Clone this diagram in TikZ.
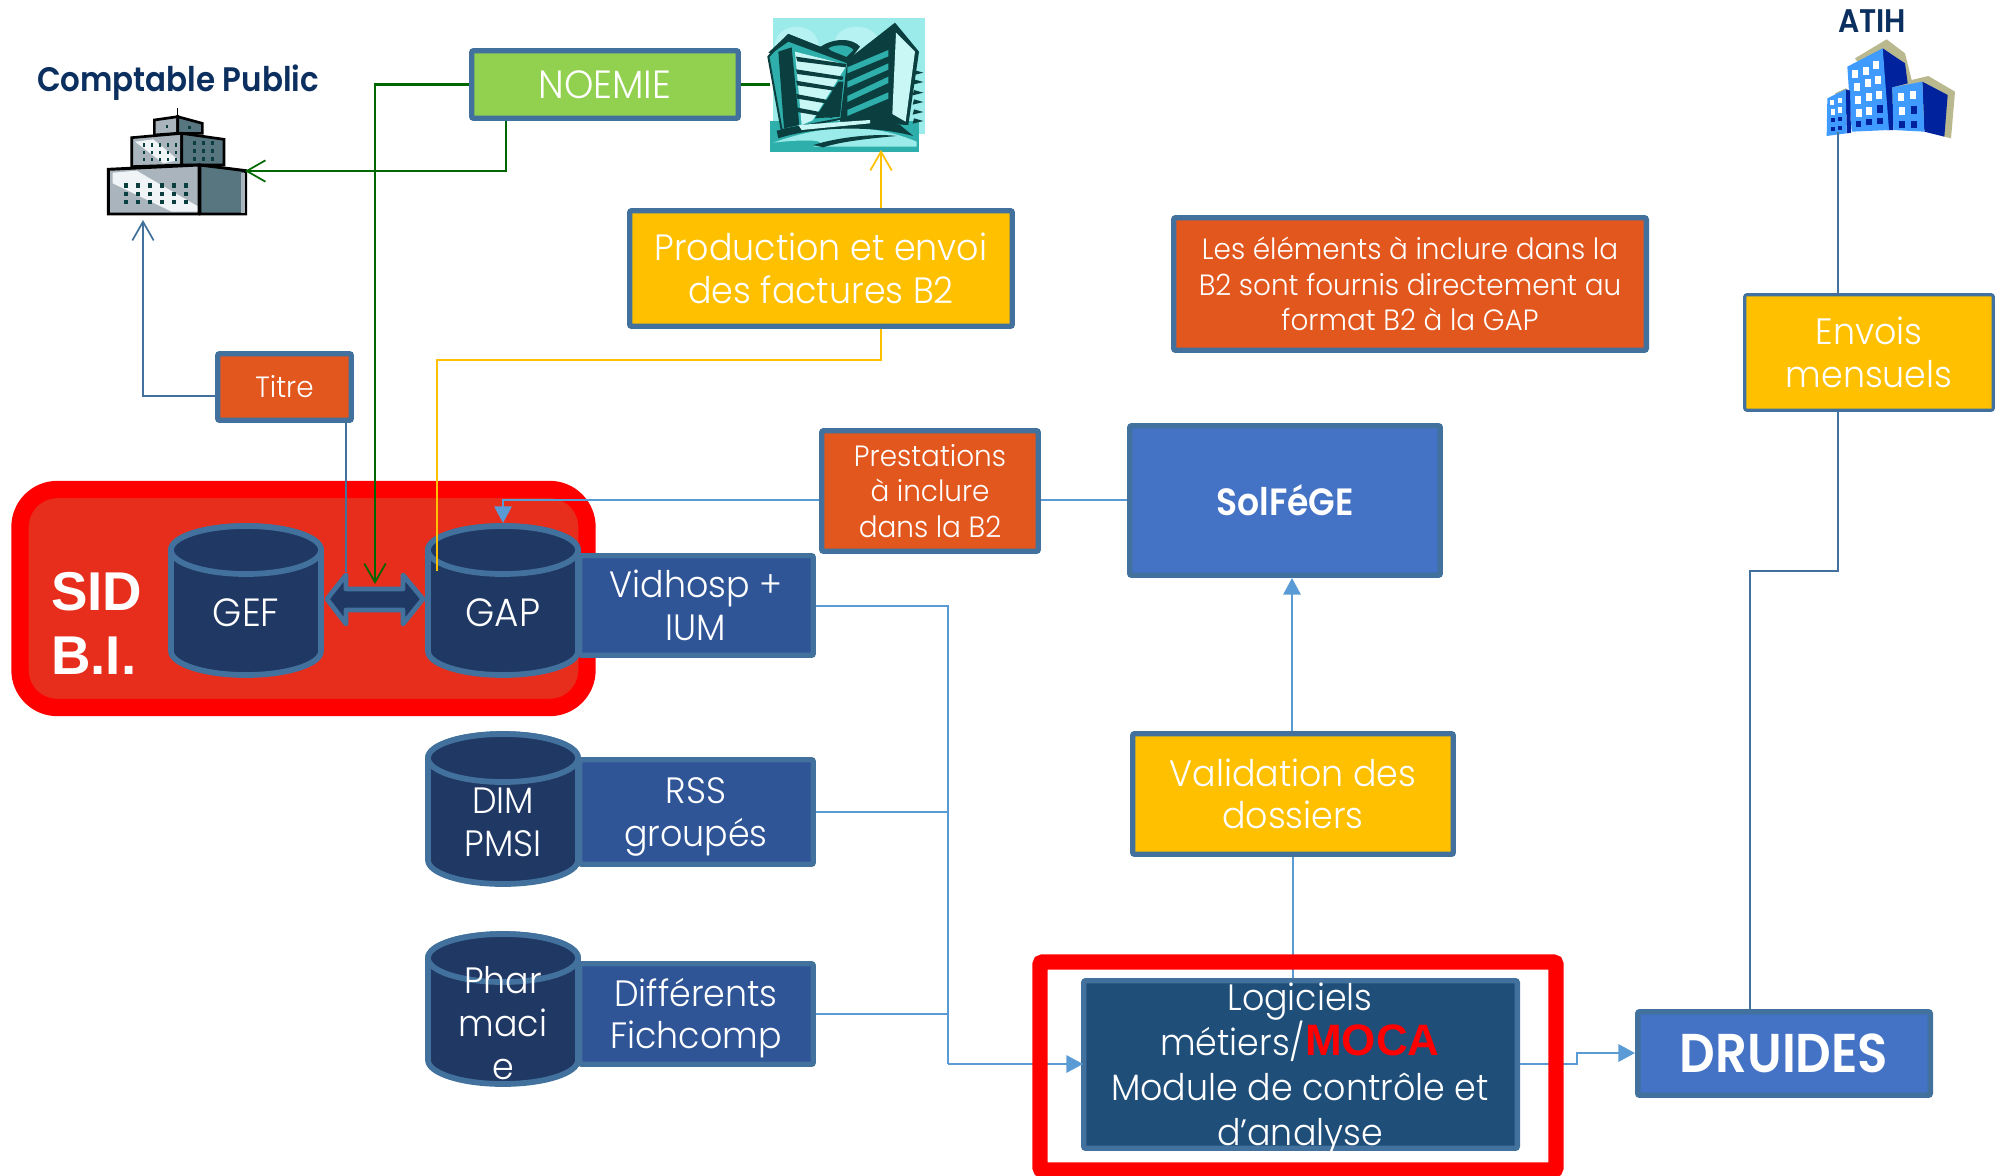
\documentclass[tikz,border=0pt]{standalone}
\usepackage{fontspec}
\usetikzlibrary{arrows.meta}
\newfontfamily\gothic[FakeStretch=0.95]{Poppins Light}
\newfontfamily\gothicb[FakeStretch=0.91]{Poppins SemiBold}
\newfontfamily\arialb{Liberation Sans Bold}
\definecolor{bord}{HTML}{41719C}
\definecolor{lnk}{HTML}{5B9BD5}
\definecolor{grn}{HTML}{006600}
\definecolor{ylw}{HTML}{FFC000}
\definecolor{orng}{HTML}{E2571E}
\definecolor{limeg}{HTML}{92D050}
\definecolor{sidf}{HTML}{E72E1C}
\definecolor{cyl}{HTML}{203864}
\definecolor{dbl}{HTML}{2F5597}
\definecolor{logi}{HTML}{1F4E79}
\definecolor{midb}{HTML}{4472C4}
\definecolor{navyt}{HTML}{0B2F5E}
\definecolor{tdark}{HTML}{0B3E3E}
\definecolor{tmid}{HTML}{2FAFAB}
\definecolor{tlight}{HTML}{9AEBEA}
\definecolor{tpale}{HTML}{C8F7F6}
\definecolor{gfront}{HTML}{A9B4BC}
\definecolor{gside}{HTML}{57767F}
\definecolor{gwhite}{HTML}{F0F4F6}
\definecolor{ablue}{HTML}{3F9BFF}
\definecolor{adark}{HTML}{00229C}
\definecolor{atan}{HTML}{B9B88F}
\tikzset{
  every node/.style={inner sep=0pt,align=center,text=white},
  boxst/.style={draw=bord,line width=4.1pt,rounded corners=1.5pt},
  txA/.style={font=\gothic\fontsize{27.5}{32}\selectfont},
  txB/.style={font=\gothic\fontsize{22}{26.6}\selectfont},
  txC/.style={font=\gothic\fontsize{29.5}{32}\selectfont},
  cylst/.style={draw=bord,fill=cyl,line width=4.3pt},
  lnkline/.style={draw=lnk,line width=1.7pt},
  bluel/.style={draw=bord,line width=1.9pt},
  grnl/.style={draw=grn,line width=1.9pt},
  ylwl/.style={draw=ylw,line width=1.5pt},
  tipfill/.style={-{Triangle[length=12.5pt,width=13pt]}},
  tipopen/.style={-{Straight Barb[length=14pt,width=16pt,line width=1.3pt]}},
}
\newcommand{\bx}[7][]{%
  \pgfmathsetmacro{\cxx}{(#3+#5)/2}\pgfmathsetmacro{\cyy}{(#4+#6)/2}%
  \pgfmathsetmacro{\www}{(#5-#3-5.5)*0.75}\pgfmathsetmacro{\hhh}{(#6-#4-5.5)*0.75}%
  \node[boxst,minimum width=\www pt,minimum height=\hhh pt,#1] (#2) at (\cxx,\cyy) {#7};}
\newcommand{\dbc}[7]{%
  \pgfmathsetmacro{\xa}{#2+3}\pgfmathsetmacro{\xb}{#4-3}%
  \pgfmathsetmacro{\rxx}{(#4-#2-6)/2}\pgfmathsetmacro{\xc}{(#2+#4)/2}%
  \pgfmathsetmacro{\ya}{#3+27}\pgfmathsetmacro{\yb}{#5-27}%
  \path[cylst] (\xa,\ya) -- (\xa,\yb) arc[start angle=180,end angle=0,x radius=\rxx,y radius=24]
     -- (\xb,\ya) arc[start angle=0,end angle=-180,x radius=\rxx,y radius=24] -- cycle;
  \path[cylst] (\xc,\ya) ellipse[x radius=\rxx,y radius=24];
  \coordinate (#1top) at (\xc,#3);
  \node[txA] (#1) at (\xc,#6) {#7};}
\begin{document}
\begin{tikzpicture}[x=0.75pt,y=-0.75pt]
\path[use as bounding box] (0,0) rectangle (1996,1175);

% ---- Comptable building
\node[font=\gothicb\fontsize{25.5}{30}\selectfont,text=navyt] (cplabel) at (178,83) {Comptable Public};
\begin{scope}[shift={(100,100)},x=0.25pt,y=-0.25pt,line join=miter]
  \draw[line width=1.1pt] (233,25)--(233,50);
  \path[fill=gfront,draw=black,line width=2pt] (163,60)--(233,50)--(233,100)--(163,105)--cycle;
  \path[fill=gside,draw=black,line width=2pt] (233,50)--(307,70)--(307,100)--(233,100)--cycle;
  \path[fill=gfront,draw=black,line width=2pt] (95,113)--(245,100)--(245,195)--(95,200)--cycle;
  \path[fill=gwhite] (105,125)--(160,118)--(235,180)--(190,190)--cycle;
  \path[fill=gside,draw=black,line width=2pt] (245,100)--(372,118)--(372,195)--(245,195)--cycle;
  \foreach \i in {0,...,4}{\foreach \j in {0,1,2}{\fill[tdark] (128+\i*24,130+\j*22) rectangle +(8,10);}}
  \foreach \i in {0,1,2}{\foreach \j in {0,1,2}{\fill[tdark] (280+\i*27,124+\j*24) rectangle +(8,10);}}
  \fill[tdark] (198,75) rectangle +(6,8); \fill[tdark] (265,78) rectangle +(8,9);
  \path[fill=gfront,draw=black,line width=2.2pt] (25,208)--(297,195)--(297,342)--(25,342)--cycle;
  \path[fill=gwhite] (38,218)--(110,212)--(292,318)--(292,335)--(215,335)--(38,250)--cycle;
  \path[fill=gside,draw=black,line width=2.2pt] (300,195)--(437,212)--(437,342)--(300,342)--cycle;
  \fill[gfront] (424,218) rectangle (435,338);
  \foreach \i in {0,...,5}{\foreach \j in {0,1,2}{\fill[tdark] (73+\i*36,250+\j*25) rectangle +(11,13);}}
\end{scope}

% ---- Teal building
\begin{scope}[shift={(760,10)},x=0.25pt,y=-0.25pt,line join=round]
  \fill[tlight] (39,24) rectangle (495,372);
  \fill[tpale!60!tlight] (110,105) ellipse[x radius=65,y radius=55];
  \fill[tpale!60!tlight] (290,95) ellipse[x radius=65,y radius=45];
  \fill[tmid] (30,332) rectangle (477,425);
  \fill[tlight] (40,398) .. controls (200,340) and (340,340) .. (470,395) -- (470,410) -- (160,410) .. controls (230,385) and (100,390) .. (40,398);
  \fill[tdark] (175,115) .. controls (220,80) and (280,85) .. (300,110) -- (255,170) -- (180,130) -- cycle;
  \fill[tmid] (205,115) .. controls (230,100) and (270,105) .. (280,120) -- (250,150) -- cycle;
  % left wing
  \path[fill=tmid,draw=tdark,line width=1.5pt] (25,140)--(85,75)--(270,150)--(250,325)--(65,360)--cycle;
  \fill[tdark] (25,128)--(85,72)--(270,145)--(262,160)--(85,95)--(35,130)--cycle;
  \fill[tdark] (55,125)--(95,112)--(118,345)--(72,355)--cycle;
  \fill[tpale] (105,125)--(262,165)--(160,330)--(125,345)--cycle;
  \fill[tmid] (258,170)--(158,332)--(250,322)--cycle;
  \foreach \yl/\xl in {140/260,178/250,212/240,252/225,292/220}{
    \fill[tdark] (108,\yl)--(\xl,\yl+22)--(\xl-3,\yl+32)--(112,\yl+14)--cycle;}
  \fill[tdark] (235,215)--(250,215)--(240,320)--(165,325)--cycle;
  % right wing
  \fill[tdark] (262,150)--(405,38)--(477,125)--(445,345)--(240,335)--cycle;
  \foreach \ya/\yb in {125/172,165/215,205/258,252/300}{
    \fill[tmid] (385,\ya-5)--(385,\ya+14)--(262,\yb+18)--(262,\yb)--cycle;}
  \fill[tpale] (408,68)--(465,125)--(437,335)--(397,312)--cycle;
  \foreach \yy in {180,208,240,268,298,325}{\fill[tdark] (462,\yy)--(490,\yy+8)--(458,\yy+16)--cycle;}
  % base
  \fill[tdark] (50,362) .. controls (130,345) and (330,320) .. (420,345) -- (460,378) .. controls (340,345) and (160,350) .. (55,385) -- cycle;
  \fill[tpale] (115,345) -- (330,330) -- (330,340) -- (125,360) -- cycle;
  \fill[tdark] (160,405) .. controls (240,380) and (350,370) .. (410,378) .. controls (330,385) and (240,395) .. (190,412) -- cycle;
\end{scope}

% ---- ATIH building
\node[font=\gothicb\fontsize{24.5}{28}\selectfont,text=navyt] (atihlabel) at (1872,21) {ATIH};
\begin{scope}[shift={(1815,30)},x=0.25pt,y=-0.25pt]
  \fill[atan] (120,85)--(215,28)--(270,70)--(290,150)--(340,138)--(420,185)--(408,325)--(388,320)--(200,200)--cycle;
  \fill[atan] (60,190)--(92,175)--(105,185)--(70,200)--cycle;
  \fill[adark] (203,55)--(270,100)--(278,160)--(232,172)--(235,300)--(215,300)--cycle;
  \fill[ablue] (97,110)--(203,55)--(222,300)--(110,305)--cycle;
  \fill[adark] (92,178)--(105,182)--(108,308)--(95,310)--cycle;
  \fill[ablue] (37,205)--(92,178)--(95,310)--(35,318)--cycle;
  \fill[adark] (322,155)--(398,195)--(388,320)--(328,305)--cycle;
  \fill[ablue] (232,172)--(322,155)--(328,305)--(235,300)--cycle;
  \foreach \p/\q in {112/120,144/110,175/92,117/160,149/148,181/138,120/198,152/190,184/182,122/236,154/230}{\fill[white] (\p,\q) rectangle +(18,24);}
  \fill[adark] (186,226) rectangle +(18,22);
  \foreach \p/\q in {122/272,154/268,186/265}{\fill[adark] (\p,\q) rectangle +(17,18);}
  \foreach \p/\q in {250/190,286/184,251/232}{\fill[white] (\p,\q) rectangle +(18,24);}
  \fill[adark] (288,229) rectangle +(18,24);
  \fill[adark] (251,274) rectangle +(18,20); \fill[adark] (288,273) rectangle +(18,22);
  \foreach \p/\q in {46/210,68/203,47/238,69/232}{\fill[white] (\p,\q) rectangle +(12,16);}
  \foreach \p/\q in {47/263,69/260,47/290,69/288}{\fill[adark] (\p,\q) rectangle +(12,13);}
\end{scope}

% ---- SID frame and boxes
\path[fill=sidf,draw=red,line width=13pt,rounded corners=28pt] (20,489.5) rectangle (587,707.5);
\node[font=\arialb\fontsize{41}{48}\selectfont,anchor=west,align=left] (sidlabel) at (51,623.5) {SID\\B.I.};

\bx[fill=limeg,txC]{noemie}{469}{48}{741}{121}{NOEMIE}
\bx[fill=ylw,txA]{prod}{627}{208}{1015}{329}{Production et envoi\\des factures B2}
\bx[fill=orng,txB]{titre}{215}{351}{354}{423}{Titre}
\bx[fill=orng,txB]{info}{1171}{215}{1649}{353}{Les éléments à inclure dans la\\B2 sont fournis directement au\\format B2 à la GAP}
\bx[fill=orng,txB]{prest}{819}{428}{1041}{554}{Prestations\\à inclure\\dans la B2}
\bx[fill=midb,font=\gothicb\fontsize{28.5}{32}\selectfont]{solfege}{1127}{423}{1443}{578}{SolFéGE}
\bx[fill=ylw,txA]{valid}{1130}{731}{1456}{857}{Validation des\\dossiers}
\bx[fill=ylw,txA,line width=2.3pt]{envois}{1742}{292}{1996}{413}{Envois\\mensuels}
\bx[fill=dbl,txA]{vid}{577}{553}{816}{658}{}
\bx[fill=dbl,txA]{rss}{577}{757}{816}{867}{}
\bx[fill=dbl,txA]{diff}{577}{961}{816}{1067}{}
\node[txA] (vidt) at (696,605) {Vidhosp +\\IUM};
\node[txA] (rsst) at (696,817) {RSS\\groupés};
\node[txA] (difft) at (696,1018) {Différents\\Fichcomp};

% ---- cylinders
\dbc{gef}{168}{523}{324}{678}{613}{\gothic\fontsize{29.5}{32}\selectfont GEF}
\dbc{gap}{425}{523}{581}{678}{613}{\gothic\fontsize{29.5}{32}\selectfont GAP}
\dbc{dim}{425}{731}{581}{887}{822}{DIM\\PMSI}
\dbc{phar}{425}{931}{581}{1087}{1023}{Phar\\maci\\e}

% ---- double arrow between the two databases
\path[draw=bord,fill=cyl,line width=3.6pt,line join=round]
  (327,599)--(346,575)--(346,589)--(403,589)--(403,575)--(423,599)--(403,624)--(403,610)--(346,610)--(346,624)--cycle;

% ---- Logiciels and DRUIDES
\bx[fill=logi]{logi}{1081}{978}{1520}{1151}{}
\node[font=\gothic\fontsize{27.5}{33.8}\selectfont] (logit) at (1300,1069) {Logiciels\\métiers/{\arialb\fontsize{33}{33.8}\selectfont\textcolor{red}{MOCA}}\\Module de contrôle et\\d’analyse};
\bx[fill=midb,font=\gothicb\fontsize{41}{48}\selectfont]{druides}{1635}{1009}{1933}{1098}{DRUIDES}

% ---- free ends
\coordinate (cpbuild) at (245,171);
\coordinate (cpunder) at (143,220);
\coordinate (tealb) at (881,150);
\coordinate (tealw) at (770,84.5);
\coordinate (atihb) at (1838,132);
\coordinate (gefgap) at (375,584);

% ---- connectors
\draw[grnl,line width=2.4pt] (noemie.east) -- (tealw);
\draw[grnl,tipopen] (noemie.west) -| (gefgap);
\draw[grnl,tipopen] (noemie.south -| 506,0) -- (506,171) -- (cpbuild);
\draw[bluel,tipopen] (titre.west |- 0,396) -| (cpunder);
\draw[bluel] (titre.south -| 346,0) -- (346,572);
\draw[ylwl,tipopen] (prod.north -| tealb) -- (tealb);
\draw[ylwl] (prod.south -| tealb) |- (437,360) -- (437,571);
\draw[lnkline,tipfill] (prest.west |- 0,500) -| (gaptop);
\draw[lnkline] (prest.east |- 0,500) -- (solfege.west |- 0,500);
\draw[lnkline,tipfill] (valid.north -| 1292,0) -- (solfege.south -| 1292,0);
\draw[lnkline,line width=1.3pt] (valid.south -| 1293,0) -- (logi.north -| 1293,0);
\draw[lnkline,line width=1.3pt] (vid.east |- 0,606) -- (948,606) -- (948,1064);
\draw[lnkline,line width=1.3pt] (rss.east |- 0,812) -- (948,812);
\draw[lnkline,line width=1.3pt] (diff.east |- 0,1014) -- (948,1014);
\draw[lnkline,tipfill] (948,1064) -- (1083,1064);
\draw[lnkline,tipfill] (logi.east |- 0,1064) -- (1577,1064) -- (1577,1053) -- (druides.west |- 0,1053);
\draw[bluel] (druides.north -| 1750,0) -- (1750,571) -- (1838,571) -- (envois.south -| 1838,0);
\draw[bluel] (envois.north -| 1838,0) -- (atihb);

% ---- red frame around the MOCA software box
\path[draw=red,line width=11.5pt,rounded corners=2pt] (1040,962) rectangle (1556,1170);
\end{tikzpicture}
\end{document}
